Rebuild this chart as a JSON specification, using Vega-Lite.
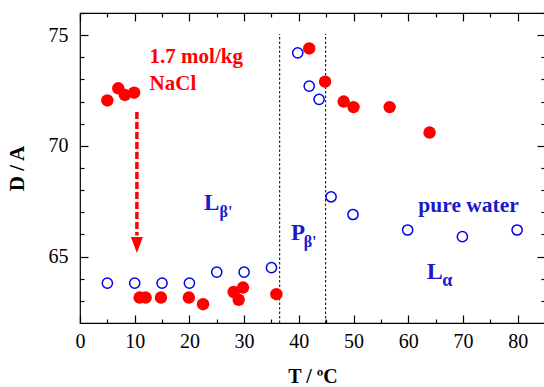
{
  "$schema": "https://vega.github.io/schema/vega-lite/v6.json",
  "width": 465,
  "height": 310,
  "autosize": {"type": "none"},
  "padding": {"left": 80, "top": 13, "right": 0, "bottom": 64},
  "config": {
    "view": {"stroke": "black", "strokeWidth": 1.2, "fill": "transparent"},
    "font": "Liberation Serif",
    "axis": {"grid": false, "domain": false, "ticks": true, "tickColor": "black", "tickWidth": 1.2, "tickOpacity": 1, "zindex": 1}
  },
  "datasets": {
    "water": [
      {"T": 5, "D": 63.8}, {"T": 10, "D": 63.8}, {"T": 15, "D": 63.8}, {"T": 20, "D": 63.8},
      {"T": 25, "D": 64.3}, {"T": 30, "D": 64.3}, {"T": 35, "D": 64.5}, {"T": 39.8, "D": 74.2},
      {"T": 41.9, "D": 72.7}, {"T": 43.7, "D": 72.1}, {"T": 45.9, "D": 67.7}, {"T": 49.9, "D": 66.9},
      {"T": 59.9, "D": 66.2}, {"T": 69.9, "D": 65.9}, {"T": 79.9, "D": 66.2}
    ],
    "nacl": [
      {"T": 5, "D": 72.05}, {"T": 7, "D": 72.6}, {"T": 8.2, "D": 72.3}, {"T": 9.9, "D": 72.4},
      {"T": 10.9, "D": 63.15}, {"T": 12, "D": 63.15}, {"T": 14.8, "D": 63.15}, {"T": 19.9, "D": 63.15},
      {"T": 22.5, "D": 62.85}, {"T": 28.1, "D": 63.4}, {"T": 29, "D": 63.05}, {"T": 29.8, "D": 63.6},
      {"T": 35.9, "D": 63.3}, {"T": 41.9, "D": 74.4}, {"T": 44.8, "D": 72.9}, {"T": 48.2, "D": 72.0},
      {"T": 50, "D": 71.75}, {"T": 56.6, "D": 71.75}, {"T": 63.9, "D": 70.6}
    ],
    "phase": [{"T": 36.5}, {"T": 44.9}],
    "one": [{}]
  },
  "layer": [
    {
      "data": {"name": "phase"},
      "mark": {"type": "rule", "color": "black", "strokeWidth": 1, "strokeDash": [2.5, 2]},
      "encoding": {
        "x": {"field": "T", "type": "quantitative", "scale": {"domain": [0, 85], "nice": false, "zero": false}, "axis": null},
        "y": {"datum": 62, "type": "quantitative", "scale": {"domain": [62, 76], "nice": false, "zero": false}, "axis": null},
        "y2": {"datum": 75.05}
      }
    },
    {
      "data": {"name": "one"},
      "mark": {"type": "rule", "color": "#ff0000", "strokeWidth": 3.5, "strokeDash": [7, 3]},
      "encoding": {
        "x": {
          "datum": 10.4, "type": "quantitative",
          "axis": {"orient": "bottom", "offset": -4, "tickSize": 4, "labels": false, "title": null,
                   "values": [5, 15, 25, 35, 45, 55, 65, 75, 85]}
        },
        "y": {
          "datum": 71.53, "type": "quantitative",
          "axis": {"orient": "left", "offset": -4, "tickSize": 4, "labels": false, "title": null,
                   "values": [63, 64, 66, 67, 68, 69, 71, 72, 73, 74, 76]}
        },
        "y2": {"datum": 65.95}
      }
    },
    {
      "data": {"name": "one"},
      "mark": {"type": "point", "shape": "M -0.75 -1 L 0.75 -1 L 0 1 Z", "size": 256, "filled": true, "color": "#ff0000", "opacity": 1},
      "encoding": {
        "x": {
          "datum": 10.4, "type": "quantitative",
          "axis": {"orient": "top", "offset": -4, "tickSize": 4, "labels": false, "title": null,
                   "values": [5, 15, 25, 35, 45, 55, 65, 75, 85]}
        },
        "y": {
          "datum": 65.52, "type": "quantitative",
          "axis": {"orient": "right", "offset": -4, "tickSize": 4, "labels": false, "title": null,
                   "values": [63, 64, 66, 67, 68, 69, 71, 72, 73, 74, 76]}
        }
      }
    },
    {
      "data": {"name": "water"},
      "mark": {"type": "point", "shape": "circle", "filled": false, "color": "#0000f0", "strokeWidth": 1.5, "size": 104, "opacity": 1},
      "encoding": {
        "x": {
          "field": "T", "type": "quantitative",
          "axis": {
            "orient": "bottom",
            "offset": -8,
            "values": [0, 10, 20, 30, 40, 50, 60, 70, 80],
            "tickSize": 8,
            "labelPadding": 8,
            "labelFont": "Liberation Serif", "labelFontSize": 20, "labelColor": "black",
            "labelFlush": false, "labelOverlap": false,
            "title": "T / ºC", "titleFont": "Liberation Serif", "titleFontSize": 20, "titleFontWeight": "bold",
            "titleColor": "black", "titlePadding": 15
          }
        },
        "y": {
          "field": "D", "type": "quantitative",
          "axis": {
            "orient": "left",
            "offset": -8,
            "values": [65, 70, 75],
            "tickSize": 8,
            "labelPadding": 12,
            "labelFont": "Liberation Serif", "labelFontSize": 20, "labelColor": "black",
            "labelFlush": false, "labelOverlap": false,
            "title": "D / A", "titleFont": "Liberation Serif", "titleFontSize": 21, "titleFontWeight": "bold",
            "titleColor": "black", "titlePadding": 21
          }
        }
      }
    },
    {
      "data": {"name": "nacl"},
      "mark": {"type": "point", "shape": "circle", "filled": true, "color": "#ff0000", "size": 155, "opacity": 1},
      "encoding": {
        "x": {
          "field": "T", "type": "quantitative",
          "axis": {"orient": "top", "offset": -8, "values": [0, 10, 20, 30, 40, 50, 60, 70, 80],
                   "tickSize": 8, "labels": false, "title": null}
        },
        "y": {
          "field": "D", "type": "quantitative",
          "axis": {"orient": "right", "offset": -8, "values": [65, 70, 75],
                   "tickSize": 8, "labels": false, "title": null}
        }
      }
    },
    {
      "data": {"name": "one"},
      "mark": {"type": "text", "align": "left", "baseline": "alphabetic", "font": "Liberation Serif", "fontSize": 21, "fontWeight": "bold", "color": "#ff0000", "lineHeight": 26.7},
      "encoding": {
        "x": {"datum": 12.72, "type": "quantitative", "axis": null},
        "y": {"datum": 73.72, "type": "quantitative", "axis": null},
        "text": {"value": ["1.7 mol/kg", "NaCl"]}
      }
    },
    {
      "data": {"name": "one"},
      "mark": {"type": "text", "align": "left", "baseline": "alphabetic", "font": "Liberation Serif", "fontSize": 21.5, "fontWeight": "bold", "color": "#1a1acc"},
      "encoding": {
        "x": {"datum": 61.85, "type": "quantitative", "axis": null},
        "y": {"datum": 67.03, "type": "quantitative", "axis": null},
        "text": {"value": "pure water"}
      }
    },
    {
      "data": {"name": "one"},
      "mark": {"type": "text", "align": "left", "baseline": "alphabetic", "font": "Liberation Serif", "fontSize": 23, "fontWeight": "bold", "color": "#1a1acc"},
      "encoding": {
        "x": {"datum": 22.65, "type": "quantitative", "axis": null},
        "y": {"datum": 67.1, "type": "quantitative", "axis": null},
        "text": {"value": "L"}
      }
    },
    {
      "data": {"name": "one"},
      "mark": {"type": "text", "align": "left", "baseline": "alphabetic", "font": "Liberation Serif", "fontSize": 16, "fontWeight": "bold", "color": "#1a1acc"},
      "encoding": {
        "x": {"datum": 25.5, "type": "quantitative", "axis": null},
        "y": {"datum": 66.8, "type": "quantitative", "axis": null},
        "text": {"value": "β'"}
      }
    },
    {
      "data": {"name": "one"},
      "mark": {"type": "text", "align": "left", "baseline": "alphabetic", "font": "Liberation Serif", "fontSize": 23, "fontWeight": "bold", "color": "#1a1acc"},
      "encoding": {
        "x": {"datum": 38.55, "type": "quantitative", "axis": null},
        "y": {"datum": 65.75, "type": "quantitative", "axis": null},
        "text": {"value": "P"}
      }
    },
    {
      "data": {"name": "one"},
      "mark": {"type": "text", "align": "left", "baseline": "alphabetic", "font": "Liberation Serif", "fontSize": 16, "fontWeight": "bold", "color": "#1a1acc"},
      "encoding": {
        "x": {"datum": 40.88, "type": "quantitative", "axis": null},
        "y": {"datum": 65.45, "type": "quantitative", "axis": null},
        "text": {"value": "β'"}
      }
    },
    {
      "data": {"name": "one"},
      "mark": {"type": "text", "align": "left", "baseline": "alphabetic", "font": "Liberation Serif", "fontSize": 24, "fontWeight": "bold", "color": "#1a1acc"},
      "encoding": {
        "x": {"datum": 63.4, "type": "quantitative", "axis": null},
        "y": {"datum": 63.98, "type": "quantitative", "axis": null},
        "text": {"value": "L"}
      }
    },
    {
      "data": {"name": "one"},
      "mark": {"type": "text", "align": "left", "baseline": "alphabetic", "font": "Liberation Serif", "fontSize": 18, "fontWeight": "bold", "color": "#1a1acc"},
      "encoding": {
        "x": {"datum": 66.2, "type": "quantitative", "axis": null},
        "y": {"datum": 63.67, "type": "quantitative", "axis": null},
        "text": {"value": "α"}
      }
    }
  ],
  "resolve": {"axis": {"x": "independent", "y": "independent"}}
}
